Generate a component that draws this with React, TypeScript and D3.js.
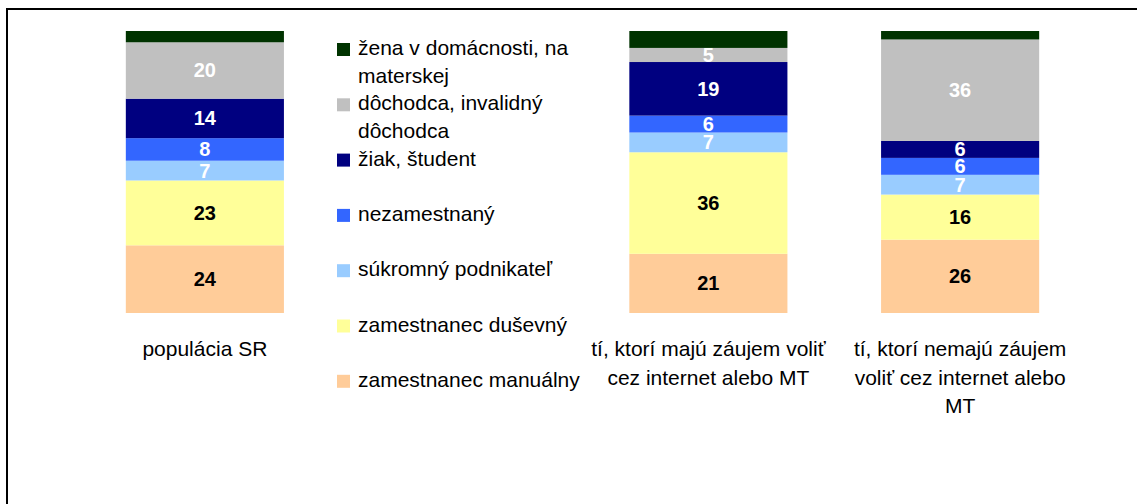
import React from "react";
import * as d3 from "d3";

const width = 1137;
const height = 504;
const margin = { top: 31, bottom: 191, left: 79, right: 51 };

// categories (second slot is left empty, the legend sits there)
const categories = ["populácia SR", "__legend__", "tí, ktorí majú záujem voliť cez internet alebo MT", "tí, ktorí nemajú záujem voliť cez internet alebo MT"];
const categoryLines = [
  ["populácia SR"],
  [],
  ["tí, ktorí majú záujem voliť", "cez internet alebo MT"],
  ["tí, ktorí nemajú záujem", "voliť cez internet alebo", "MT"],
];

// series, bottom to top
const seriesNames = [
  "zamestnanec manuálny",
  "zamestnanec duševný",
  "súkromný podnikateľ",
  "nezamestnaný",
  "žiak, študent",
  "dôchodca, invalidný dôchodca",
  "žena v domácnosti, na materskej",
];
const seriesColors = ["#FFCC99", "#FFFF99", "#99CCFF", "#3366FF", "#000080", "#C0C0C0", "#003300"];
const labelColors = ["#000", "#000", "#fff", "#fff", "#fff", "#fff", null];

const manualny = [24, null, 21, 26];
const dusevny = [23, null, 36, 16];
const podnikatel = [7, null, 7, 7];
const nezamestnany = [8, null, 6, 6];
const student = [14, null, 19, 6];
const dochodca = [20, null, 5, 36];
const zena = [4, null, 6, 3];

// legend text, top to bottom, wrapped like the original
const legendLines = [
  ["žena v domácnosti, na", "materskej"],
  ["dôchodca, invalidný", "dôchodca"],
  ["žiak, študent"],
  ["nezamestnaný"],
  ["súkromný podnikateľ"],
  ["zamestnanec duševný"],
  ["zamestnanec manuálny"],
];
const legendColors = ["#003300", "#C0C0C0", "#000080", "#3366FF", "#99CCFF", "#FFFF99", "#FFCC99"];

const font = "'Liberation Sans', Arial, sans-serif";

export default function App() {
  const allSeries = [manualny, dusevny, podnikatel, nezamestnany, student, dochodca, zena];
  const rows = categories.map((c, i) => {
    const row: any = { cat: c };
    seriesNames.forEach((s, j) => (row[s] = allSeries[j][i] ?? 0));
    return row;
  });
  const stacked = d3.stack().keys(seriesNames)(rows);

  const x = d3
    .scaleBand()
    .domain(categories)
    .range([margin.left, width - margin.right])
    .paddingInner(0.372)
    .paddingOuter(0.186);
  const y = d3
    .scaleLinear()
    .domain([0, 100])
    .range([height - margin.bottom, margin.top]);

  const legendX = 337;
  const legendY = 55;
  const legendStep = 55.3;

  return (
    <svg
      width={width}
      height={height}
      style={{ position: "absolute", left: 0, top: 0, background: "#fff", fontFamily: font }}
    >
      <rect x={7} y={9} width={1300} height={700} fill="none" stroke="#000" strokeWidth={2} />
      {stacked.map((layer, j) => (
        <g key={layer.key} fill={seriesColors[j]}>
          {layer.map((d, i) =>
            allSeries[j][i] === null ? null : (
              <rect
                key={i}
                x={x(categories[i])}
                y={y(d[1])}
                width={x.bandwidth()}
                height={y(d[0]) - y(d[1])}
              />
            )
          )}
        </g>
      ))}
      {stacked.map((layer, j) =>
        labelColors[j] === null ? null : (
          <g key={"l" + layer.key}>
            {layer.map((d, i) =>
              allSeries[j][i] === null ? null : (
                <text
                  key={i}
                  x={x(categories[i])! + x.bandwidth() / 2}
                  y={(y(d[0]) + y(d[1])) / 2 + 7}
                  textAnchor="middle"
                  fontSize={20}
                  fontWeight="bold"
                  fill={labelColors[j]!}
                >
                  {allSeries[j][i]}
                </text>
              )
            )}
          </g>
        )
      )}
      {categoryLines.map((lines, i) => (
        <text
          key={"c" + i}
          x={x(categories[i])! + x.bandwidth() / 2}
          y={356}
          textAnchor="middle"
          fontSize={21}
          fill="#000"
        >
          {lines.map((t, k) => (
            <tspan key={k} x={x(categories[i])! + x.bandwidth() / 2} dy={k === 0 ? 0 : 28.5}>
              {t}
            </tspan>
          ))}
        </text>
      ))}
      {legendLines.map((lines, i) => (
        <g key={"lg" + i} transform={`translate(${legendX},${legendY + i * legendStep})`}>
          <rect x={0} y={-12} width={13} height={13} fill={legendColors[i]} />
          <text x={21} y={0} fontSize={21} fill="#000">
            {lines.map((t, k) => (
              <tspan key={k} x={21} dy={k === 0 ? 0 : 27.5}>
                {t}
              </tspan>
            ))}
          </text>
        </g>
      ))}
    </svg>
  );
}
